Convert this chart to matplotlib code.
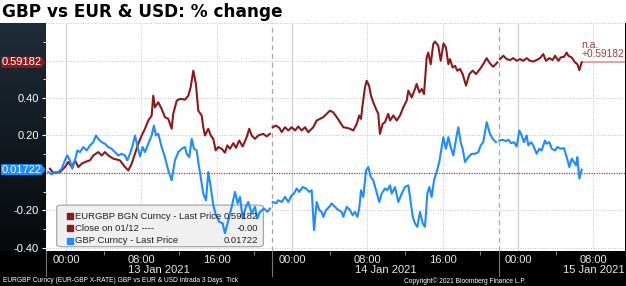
import matplotlib
matplotlib.use("Agg")
import matplotlib.pyplot as plt
import numpy as np
from matplotlib.patches import FancyBboxPatch, Polygon, Rectangle
from matplotlib.colors import LinearSegmentedColormap
from matplotlib.transforms import blended_transform_factory

plt.rcParams['font.family'] = ['Liberation Sans', 'DejaVu Sans']

# time = hours from 13 Jan 2021 00:00, values = % change vs close on 12 Jan
eur_t = [-2.12, -1.70, -1.35, -0.64, -0.11, 0.24, 0.61, 0.96, 1.31, 1.67, 2.02, 2.55, 2.90, 3.43,
         3.79, 4.14, 4.49, 5.02, 5.73, 6.27, 6.62, 6.98, 7.33, 7.68, 8.04, 8.39, 8.74, 9.10, 9.27,
         9.45, 9.80, 10.16, 10.51, 10.86, 11.22, 11.39, 11.76, 12.11, 12.64, 12.99, 13.24, 13.52,
         13.80, 14.05, 14.41, 14.58, 14.76, 15.11, 15.37, 15.64, 15.90, 16.17, 16.53, 16.88, 17.13,
         17.42, 17.77, 18.05, 18.40, 18.76, 19.19, 19.46, 19.72, 20.07, 20.42, 20.95, 21.31, 21.66,
         21.95, 22.30, 22.65, 22.91, 23.26, 23.61, 23.97, 24.32, 24.67, 25.03, 25.38, 25.73, 26.26,
         26.62, 26.97, 27.32, 27.68, 28.03, 28.38, 28.75, 29.10, 29.45, 29.81, 30.16, 30.51, 30.87,
         31.14, 31.33, 31.51, 31.75, 31.93, 32.18, 32.39, 32.63, 32.92, 33.16, 33.34, 33.63, 33.87,
         34.22, 34.41, 34.76, 35.12, 35.47, 35.82, 36.18, 36.35, 36.71, 37.06, 37.24, 37.52, 37.77,
         38.02, 38.30, 38.47, 38.73, 39.00, 39.18, 39.53, 39.79, 40.09, 40.35, 40.60, 40.78, 41.06,
         41.31, 41.55, 41.84, 42.12, 42.48, 42.83, 43.19, 43.54, 43.96, 44.31, 44.67, 45.02, 45.37,
         45.80,
         46.09, 46.44, 46.80, 47.15, 47.50, 47.86, 48.21, 48.56, 48.92, 49.27, 49.62, 49.98, 50.33,
         50.68, 50.97, 51.32, 51.68, 51.93, 52.28, 52.53, 52.88, 53.17, 53.34, 53.70, 54.05, 54.30,
         54.51, 54.76]
eur_v = [-0.004, 0.022, -0.001, 0.004, 0.031, 0.058, 0.031, 0.067, 0.031, 0.049, 0.058, 0.067, 0.093,
         0.111, 0.093, 0.111, 0.093, 0.076, 0.067, 0.031, 0.013, 0.049, 0.102, 0.156, 0.200, 0.236,
         0.280, 0.307, 0.413, 0.351, 0.378, 0.342, 0.298, 0.289, 0.236, 0.316, 0.387, 0.396, 0.392,
         0.413, 0.458, 0.547, 0.476, 0.333, 0.307, 0.244, 0.200, 0.236, 0.200, 0.182, 0.120, 0.138,
         0.129, 0.108, 0.147, 0.129, 0.159, 0.134, 0.173, 0.141, 0.191, 0.236, 0.200, 0.182, 0.200,
         0.209, 0.195, 0.209,
         0.244, 0.253, 0.241, 0.218, 0.244, 0.227, 0.244, 0.227, 0.248, 0.227, 0.244, 0.218, 0.244,
         0.280, 0.289, 0.298, 0.316, 0.333, 0.324, 0.298, 0.271, 0.244, 0.241, 0.236, 0.227, 0.262,
         0.307, 0.289, 0.369, 0.458, 0.493, 0.467, 0.413, 0.378, 0.342, 0.316, 0.209, 0.262, 0.271,
         0.316, 0.280, 0.307, 0.280, 0.307, 0.351, 0.387, 0.440, 0.404, 0.449, 0.476, 0.431, 0.449,
         0.422, 0.618, 0.644, 0.582, 0.689, 0.703, 0.680, 0.600, 0.693, 0.671, 0.582, 0.609, 0.564,
         0.573, 0.547, 0.556, 0.529, 0.467, 0.529, 0.547, 0.529, 0.556, 0.582, 0.614, 0.586, 0.568,
         0.591,
         0.609, 0.627, 0.609, 0.604, 0.614, 0.600, 0.609, 0.600, 0.614, 0.600, 0.596, 0.604, 0.614,
         0.636, 0.600, 0.614, 0.604, 0.627, 0.600, 0.618, 0.621, 0.644, 0.627, 0.618, 0.591, 0.582,
         0.550, 0.59182]

gbp_t = [-2.12, -1.88, -1.52, -1.17, -0.82, -0.46, -0.11, 0.14, 0.42, 0.67, 0.96, 1.20, 1.49, 1.84,
         2.20, 2.55, 2.90, 3.19, 3.43, 3.79, 4.14, 4.49, 4.85, 5.20, 5.55, 5.91, 6.27, 6.51, 6.80,
         7.08, 7.33, 7.57, 7.86, 8.14, 8.39, 8.74, 9.10, 9.34, 9.56, 9.80, 10.16, 10.51, 10.86,
         11.22, 11.36, 11.57, 11.93, 12.29, 12.64, 12.82, 13.09, 13.35, 13.59, 13.88, 14.05, 14.30,
         14.58, 14.87, 15.11, 15.37, 15.64, 15.93, 16.28, 16.64, 16.88, 17.24, 17.60, 17.95, 18.23,
         18.48, 18.76, 19.11, 19.36, 19.72, 20.07, 20.31, 20.60, 21.03, 21.38, 21.66,
         21.95, 22.30, 22.54, 22.91, 23.26, 23.61, 23.97, 24.21, 24.50, 24.77, 25.14, 25.49, 25.84,
         26.09, 26.34, 26.62, 26.90, 27.15, 27.32, 27.61, 27.96, 28.21, 28.57, 28.92, 29.28, 29.45,
         29.81, 30.16, 30.44, 30.69, 30.93, 31.14, 31.33, 31.57, 31.86, 32.10, 32.36, 32.63, 32.92,
         33.27, 33.52, 33.87, 34.12, 34.41, 34.59, 34.94, 35.29, 35.65, 36.00, 36.35, 36.53, 36.82,
         37.06, 37.31, 37.59, 37.88, 38.12, 38.37, 38.58, 38.83, 39.08, 39.36, 39.64, 40.07, 40.35,
         40.60, 40.85, 41.13, 41.49, 41.66, 41.91, 42.12, 42.37, 42.72, 43.08, 43.43, 43.78, 44.04,
         44.31, 44.67, 45.02, 45.31, 45.66,
         46.01, 46.37, 46.72, 46.97, 47.26, 47.57, 47.86, 48.14, 48.39, 48.63, 48.92, 49.09, 49.38,
         49.62, 49.98, 50.26, 50.51, 50.86, 51.04, 51.32, 51.58, 51.93, 52.17, 52.53, 52.88, 53.17,
         53.45, 53.70, 53.94, 54.16, 54.30, 54.51, 54.76]
gbp_v = [-0.013, 0.004, -0.008, 0.004, 0.004, 0.022, 0.067, 0.093, 0.067, 0.022, 0.067, 0.120, 0.111,
         0.138, 0.120, 0.147, 0.164, 0.200, 0.182, 0.164, 0.156, 0.138, 0.129, 0.111, 0.093, 0.102,
         0.093, 0.067, 0.102, 0.147, 0.200, 0.147, 0.088, 0.138, 0.111, 0.156, 0.200, 0.253, 0.200,
         0.209, 0.138, 0.084, 0.013, -0.040, 0.004, 0.067, 0.111, 0.129, 0.138, 0.102, 0.084, 0.182,
         0.129, 0.120, 0.058, -0.022, -0.111, -0.147, 0.004, -0.076, -0.173, -0.227, -0.262, -0.271,
         -0.324, -0.253, -0.182, -0.102, -0.164, -0.129, -0.244, -0.182, -0.156, -0.218, -0.182,
         -0.244, -0.209, -0.191, -0.209, -0.191,
         -0.156, -0.164, -0.147, -0.156, -0.129, -0.156, -0.120, -0.111, -0.084, -0.102, -0.076,
         -0.084, -0.102, -0.093, -0.307, -0.156, -0.200, -0.209, -0.236, -0.200, -0.182, -0.164,
         -0.182, -0.200, -0.209, -0.236, -0.182, -0.200, -0.227, -0.209, -0.236, -0.191, -0.093,
         -0.129, 0.013, 0.031, -0.022, -0.040, -0.093, -0.156, -0.111, -0.084, -0.093, -0.067,
         -0.111, -0.076, -0.156, -0.111, -0.076, -0.067, -0.129, -0.236, -0.271, -0.289, -0.209,
         -0.271, -0.289, -0.111, -0.076, -0.129, -0.040, 0.004, 0.058, 0.191, 0.129, 0.191, 0.138,
         0.093, 0.200, 0.244, 0.164, 0.129, 0.058, 0.084, 0.102, 0.102, 0.111, 0.147, 0.164, 0.271,
         0.209, 0.182, 0.164,
         0.173, 0.177, 0.170, 0.177, 0.159, 0.164, 0.141, 0.227, 0.200, 0.164, 0.200, 0.147, 0.164,
         0.147, 0.102, 0.129, 0.120, 0.173, 0.156, 0.164, 0.129, 0.120, 0.138, 0.129, 0.132, 0.084,
         0.031, 0.076, 0.058, 0.040, 0.084, -0.031, 0.01722]

# trading sessions start 22:00 (hours from 13 Jan 00:00)
session_edges = [-2.1, 21.9, 46.0, 70.0]
session_dates = ["13 Jan 2021", "14 Jan 2021", "15 Jan 2021"]
major_hours = [0, 8, 16, 24, 32, 40, 48, 56]
major_labels = ["00:00", "08:00", "16:00", "00:00", "08:00", "16:00", "00:00", "08:00"]
minor_hours = [4, 12, 20, 28, 36, 44, 52]
ygrid = [-0.4, -0.2, 0.2, 0.4, 0.6, 0.8]
yticks = [-0.4, -0.2, 0.2, 0.4]

series_names = ["EURGBP BGN Curncy - Last Price", "Close on 01/12 ----", "GBP Curncy - Last Price"]
prev_close = 0.0

RED = '#8b1a1e'
BLUE = '#1e8cff'

W, H = 626, 286
fig = plt.figure(figsize=(W / 100, H / 100), dpi=100, facecolor='black')
ax_l, ax_r = 46 / W, 625 / W
ax_b, ax_t = (H - 250.7) / H, (H - 22.5) / H

# white title band
fig.add_artist(Rectangle((0, ax_t), 1, 1 - ax_t, transform=fig.transFigure,
                         facecolor='white', edgecolor='none', zorder=-5))
fig.text(2 / W, (H - 16.7) / H, "GBP vs EUR & USD: % change", fontsize=12.2,
         fontweight='bold', family='DejaVu Sans', color='black', va='baseline')

# dark gradient panel behind y labels
pax = fig.add_axes([0, ax_b, ax_l, ax_t - ax_b], zorder=-1)
grad = np.linspace(0, 1, 200).reshape(-1, 1)
pax.imshow(grad, aspect='auto', extent=[0, 1, 0, 1],
           cmap=LinearSegmentedColormap.from_list('panel', ['#1f2c38', '#07090b']))
pax.axis('off')

ax = fig.add_axes([ax_l, ax_b, ax_r - ax_l, ax_t - ax_b])
ax.set_facecolor('white')
for s in ax.spines.values():
    s.set_visible(False)
xmin, xmax = -2.12, 59.36
ax.set_xlim(xmin, xmax)
ax.set_ylim(-0.417, 0.805)

# grid
for g in ygrid:
    ax.axhline(g, color='#c4c4c4', lw=0.7, ls=(0, (1, 1.5)), zorder=1)
for h in major_hours:
    if h % 24 == 0:
        ax.axvline(h, color='#cfcfcf', lw=0.9, zorder=1)
    else:
        ax.axvline(h, color='#c4c4c4', lw=0.7, ls=(0, (1, 1.5)), zorder=1)
for e in session_edges[1:3]:
    ax.axvline(e, color='#a8a8a8', lw=0.9, ls=(0, (4, 3)), zorder=1)

ax.axhline(prev_close, color='#b03a3a', lw=0.9, ls=(0, (1, 1)), zorder=2)


def with_breaks(t, v):
    tt, vv = [], []
    for i in range(len(t)):
        if i > 0 and any(t[i - 1] < e <= t[i] for e in session_edges):
            tt.append(np.nan)
            vv.append(np.nan)
        tt.append(t[i])
        vv.append(v[i])
    return tt, vv


ax.plot(*with_breaks(eur_t, eur_v), color=RED, lw=1.5, zorder=4)
ax.plot(*with_breaks(gbp_t, gbp_v), color=BLUE, lw=1.5, zorder=4)

# extension of last EURGBP value
ax.plot([eur_t[-1], xmax], [eur_v[-1], eur_v[-1]], color='#dfa5a5', lw=1.5, zorder=3)
ax.annotate("n.a.", (eur_t[-1], eur_v[-1]), xytext=(0, 12.5), textcoords='offset points',
            color='#a33c3c', fontsize=7.5, va='center', ha='left')
ax.annotate("+%.5f" % eur_v[-1], (eur_t[-1], eur_v[-1]), xytext=(-0.5, 6.3),
            textcoords='offset points', color='#a33c3c', fontsize=7.3, va='center', ha='left',
            annotation_clip=False)

# axes ticks
ax.set_yticks(yticks)
ax.set_yticklabels(["%.2f" % y for y in yticks])
ax.set_yticks(np.arange(-0.3, 0.8, 0.2), minor=True)
ax.tick_params(axis='y', which='major', colors='white', labelsize=8, length=3, width=0.8, pad=2)
ax.tick_params(axis='y', which='minor', colors='white', length=2, width=0.6)
ax.set_xticks(major_hours)
ax.set_xticklabels(major_labels)
ax.set_xticks(minor_hours, minor=True)
ax.tick_params(axis='x', which='major', colors='#e8e8e8', labelsize=8, length=0, pad=3)
ax.tick_params(axis='x', which='minor', colors='#808080', length=3, width=0.8)

bt = blended_transform_factory(ax.transData, ax.transAxes)
for i, d in enumerate(session_dates[:-1]):
    c = (session_edges[i] + session_edges[i + 1]) / 2
    ax.text(c, -0.085, d, transform=bt, color='#e8e8e8', fontsize=8, ha='center', va='center',
            clip_on=False)
# last session runs past the right edge: keep its date inside the figure
ax.text(0.999, -0.085, session_dates[-1], transform=ax.transAxes, color='#e8e8e8', fontsize=8,
        ha='right', va='center', clip_on=False)
for e in session_edges[:3]:
    ax.plot([e, e], [0, -0.112], transform=bt, color='#777777', lw=0.8, clip_on=False)

# value tags on the y axis
def tag(value, color):
    y = ax.transData.transform((0, value))[1]
    x0, x1, xt, hh = 1, 41.5, 45.5, 5.5
    pts = [(x0, y - hh), (x1, y - hh), (xt, y), (x1, y + hh), (x0, y + hh)]
    fig.add_artist(Polygon([(px / W, py / H) for px, py in pts], closed=True,
                           transform=fig.transFigure, facecolor=color, edgecolor='none',
                           zorder=6))
    fig.text((x0 + x1) / 2 / W, y / H, "%.5f" % value, color='white', fontsize=8,
             ha='center', va='center', zorder=7)


tag(eur_v[-1], RED)
tag(gbp_v[-1], BLUE)

# legend box
ax.add_patch(FancyBboxPatch((0.0185, 0.0175), 0.357, 0.1825, transform=ax.transAxes,
                            boxstyle='round,pad=0,rounding_size=0.01', facecolor='#efefef',
                            edgecolor='#a0a0a0', lw=0.9, alpha=0.92, zorder=3))
leg_colors = [RED, RED, BLUE]
leg_values = ["%.5f" % eur_v[-1], "-%.2f" % abs(prev_close), "%.5f" % gbp_v[-1]]
for i, (name, col, val) in enumerate(zip(series_names, leg_colors, leg_values)):
    yy = 0.152 - i * 0.054
    ax.plot([0.041], [yy], 's', color=col, ms=4.2, transform=ax.transAxes, zorder=5)
    ax.text(0.050, yy, name, color='#222222', fontsize=6.8, va='center', ha='left',
            transform=ax.transAxes, zorder=5)
    ax.text(0.366, yy, val, color='#222222', fontsize=6.8, va='center', ha='right',
            transform=ax.transAxes, zorder=5)

# footer
fig.text(3 / W, (H - 281) / H, "EURGBP Curncy (EUR-GBP X-RATE) GBP vs EUR & USD intrada 3 Days  Tick",
         color='white', fontsize=4.8, va='center')
fig.text(404 / W, (H - 281) / H, "Copyright\u00a9 2021 Bloomberg Finance L.P.", color='white',
         fontsize=4.8, va='center')

fig.savefig("out.png", dpi=100, facecolor='black')
